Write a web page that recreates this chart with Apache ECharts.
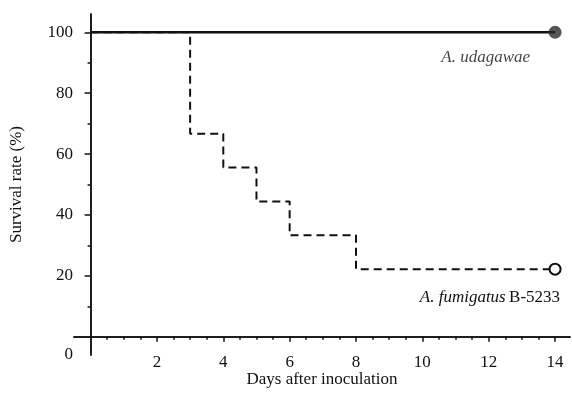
<!DOCTYPE html>
<html>
<head>
<meta charset="utf-8">
<script src="https://cdn.jsdelivr.net/npm/echarts@6/dist/echarts.min.js"></script>
<style>
  html, body { margin: 0; padding: 0; background: #fff; }
  #chart { width: 572px; height: 401px; }
</style>
</head>
<body>
<div id="chart"></div>
<script>
// survival data (days, % alive)
var fumigatusDays = [0, 3, 4, 5, 6, 8, 14];
var fumigatusSurvival = [100, 66.7, 55.6, 44.4, 33.3, 22.2, 22.2];
var udagawaeDays = [0, 14];
var udagawaeSurvival = [100, 100];

var xLabelValues = [2, 4, 6, 8, 10, 12, 14];
var xMinorTicks = [0.5, 1, 1.5, 2.5, 3, 3.5, 4.5, 5, 5.5, 6.5, 7, 7.5, 8.5, 9, 9.5, 10.5, 11, 11.5, 12.5, 13, 13.5];
var yLabelValues = [0, 20, 40, 60, 80, 100];
var yMajorTicks = [20, 40, 60, 80, 100];
var yMinorTicks = [10, 30, 50, 70, 90];

var serif = "'Liberation Serif', 'Times New Roman', serif";
var ink = '#111';
var fs = 17;

function pairs(xs, ys) {
    return xs.map(function (x, i) { return [x, ys[i]]; });
}
var fumLine = pairs(fumigatusDays, fumigatusSurvival);
var udaLine = pairs(udagawaeDays, udagawaeSurvival);

var axisX = {
    type: 'value', min: -0.5, max: 14.45,
    splitLine: {show: false},
    axisLine: {onZero: true, onZeroAxisIndex: 0, lineStyle: {color: ink, width: 1.5}}
};
var axisY = {
    type: 'value', min: -6, max: 106,
    splitLine: {show: false},
    axisLine: {onZero: true, onZeroAxisIndex: 0, lineStyle: {color: ink, width: 1.5}}
};

var chart = echarts.init(document.getElementById('chart'), null, {renderer: 'canvas'});
chart.setOption({
    animation: false,
    backgroundColor: '#fff',
    grid: {left: 74, right: 2, top: 14, bottom: 46, outerBoundsMode: 'none'},
    xAxis: [
        Object.assign({}, axisX, {
            position: 'bottom',
            name: 'Days after inoculation',
            nameLocation: 'middle',
            nameGap: 16,
            nameMoveOverlap: false,
            nameTextStyle: {fontFamily: serif, fontSize: fs, color: ink},
            axisTick: {customValues: xLabelValues, length: 5, lineStyle: {color: ink, width: 1.5}},
            axisLabel: {customValues: xLabelValues, margin: -1, fontFamily: serif, fontSize: fs, color: ink}
        }),
        Object.assign({}, axisX, {
            position: 'bottom',
            axisTick: {customValues: xMinorTicks, length: 3, lineStyle: {color: ink, width: 1.5}},
            axisLabel: {show: false}
        })
    ],
    yAxis: [
        Object.assign({}, axisY, {
            position: 'left',
            name: 'Survival rate (%)',
            nameLocation: 'middle',
            nameRotate: 90,
            nameGap: 49,
            nameMoveOverlap: false,
            nameTextStyle: {fontFamily: serif, fontSize: fs, color: ink},
            axisTick: {customValues: yMajorTicks, length: 6, lineStyle: {color: ink, width: 1.5}},
            axisLabel: {
                customValues: yLabelValues, margin: 1,
                fontFamily: serif, fontSize: fs, color: ink,
                formatter: function (v) { return v === 0 ? '{o|0}' : String(v); },
                rich: {o: {fontFamily: serif, fontSize: fs, color: ink, padding: [36, 0, 0, 0]}}
            }
        }),
        Object.assign({}, axisY, {
            position: 'left',
            axisTick: {customValues: yMinorTicks, length: 3, lineStyle: {color: ink, width: 1.5}},
            axisLabel: {show: false}
        })
    ],
    series: [
        {
            name: 'A. fumigatus B-5233', type: 'line', step: 'end', data: fumLine, z: 2,
            symbol: 'none', lineStyle: {color: ink, width: 2, type: [8, 5]}
        },
        {
            name: 'A. udagawae', type: 'line', data: udaLine, z: 4,
            symbol: 'none', lineStyle: {color: ink, width: 2.5}
        },
        {
            type: 'scatter', data: [udaLine[udaLine.length - 1]], z: 5,
            symbol: 'circle', symbolSize: 13,
            itemStyle: {color: '#2a2a2a'},
            label: {
                show: true, position: 'bottom', align: 'right', offset: [-25, 5],
                color: ink,
                formatter: '{i|A. udagawae}',
                rich: {i: {fontFamily: serif, fontStyle: 'italic', fontSize: fs, color: ink}}
            }
        },
        {
            type: 'scatter', data: [fumLine[fumLine.length - 1]], z: 5,
            symbol: 'circle', symbolSize: 11,
            itemStyle: {color: '#fff', borderColor: ink, borderWidth: 2, opacity: 1},
            label: {
                show: true, position: 'bottom', align: 'right', offset: [5, 8],
                color: ink,
                formatter: '{i|A. fumigatus} {n|B-5233}',
                rich: {
                    i: {fontFamily: serif, fontStyle: 'italic', fontSize: fs, color: ink},
                    n: {fontFamily: serif, fontSize: fs, color: ink}
                }
            }
        }
    ]
});
window.onresize = chart.resize;
</script>
</body>
</html>
